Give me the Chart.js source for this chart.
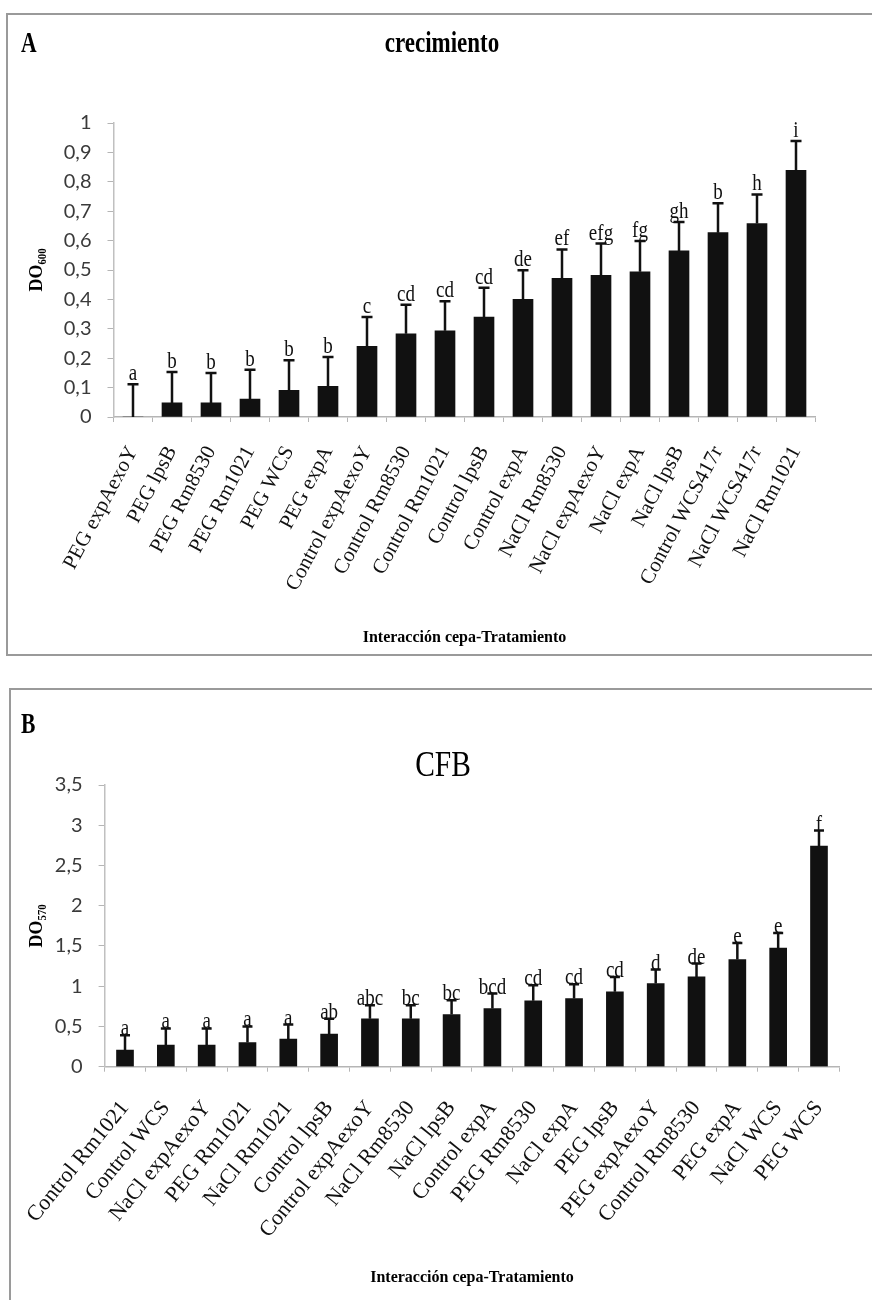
<!DOCTYPE html>
<html><head><meta charset="utf-8">
<script src="https://cdn.jsdelivr.net/npm/chart.js@4.4.0/dist/chart.umd.min.js"></script>
<style>
html,body{margin:0;padding:0;background:#fff;width:872px;height:1300px;overflow:hidden;position:relative}
.box{position:absolute;border:2px solid #9a9a9a;border-right:none;box-sizing:border-box}
#boxA{left:6px;top:13px;width:870px;height:643px}
#boxB{left:9px;top:688px;width:870px;height:620px;border-bottom:none}
.cv{position:absolute}
#wrapA{left:0;top:0;width:872px;height:655px}
#wrapB{left:0;top:690px;width:872px;height:610px}
</style></head><body>
<div class="box" id="boxA"></div>
<div class="box" id="boxB"></div>
<div class="cv" id="wrapA"><canvas id="cA"></canvas></div>
<div class="cv" id="wrapB"><canvas id="cB"></canvas></div>
<script>
// ---------- Panel A: crecimiento ----------
const categoriesA = ['PEG expAexoY','PEG lpsB','PEG Rm8530','PEG Rm1021','PEG WCS','PEG expA',
  'Control expAexoY','Control Rm8530','Control Rm1021','Control lpsB','Control expA',
  'NaCl Rm8530','NaCl expAexoY','NaCl expA','NaCl lpsB','Control WCS417r','NaCl WCS417r','NaCl Rm1021'];
const valuesA = [0, 0.048, 0.048, 0.061, 0.091, 0.104, 0.240, 0.283, 0.293, 0.340, 0.400,
  0.472, 0.482, 0.494, 0.565, 0.627, 0.658, 0.839];
const errorsA = [0.111, 0.105, 0.102, 0.100, 0.102, 0.100, 0.100, 0.099, 0.101, 0.100, 0.099,
  0.098, 0.108, 0.105, 0.098, 0.100, 0.099, 0.100];
const lettersA = ['a','b','b','b','b','b','c','cd','cd','cd','de','ef','efg','fg','gh','b','h','i'];
const yMinA = 0, yMaxA = 1, yStepA = 0.1;

// ---------- Panel B: CFB ----------
const categoriesB = ['Control Rm1021','Control WCS','NaCl expAexoY','PEG Rm1021','NaCl Rm1021',
  'Control lpsB','Control expAexoY','NaCl Rm8530','NaCl lpsB','Control expA','PEG Rm8530',
  'NaCl expA','PEG lpsB','PEG expAexoY','Control Rm8530','PEG expA','NaCl WCS','PEG WCS'];
const valuesB = [0.207, 0.27, 0.27, 0.30, 0.343, 0.405, 0.595, 0.595, 0.649, 0.723, 0.818,
  0.847, 0.93, 1.033, 1.116, 1.331, 1.475, 2.74];
const errorsB = [0.185, 0.205, 0.205, 0.20, 0.18, 0.19, 0.17, 0.17, 0.177, 0.186, 0.194,
  0.178, 0.186, 0.174, 0.165, 0.206, 0.186, 0.194];
const lettersB = ['a','a','a','a','a','ab','abc','bc','bc','bcd','cd','cd','cd','d','de','e','e','f'];
const yMinB = 0, yMaxB = 3.5, yStepB = 0.5;

const SERIF = "'Liberation Serif','DejaVu Serif',serif";
const SANS = "Lato,'Open Sans',sans-serif";

function commaFmt(v){ return String(Math.round(v*10)/10).replace('.', ','); }

function errorPlugin(errors, letters, opts){
  return {
    id: 'errbars',
    afterDatasetsDraw(chart){
      const ctx = chart.ctx;
      const meta = chart.getDatasetMeta(0);
      const ys = chart.scales.y;
      const vals = chart.data.datasets[0].data;
      ctx.save();
      ctx.strokeStyle = '#111';
      ctx.lineWidth = opts.lw;
      for (let i = 0; i < vals.length; i++){
        const x = meta.data[i].x;
        const yb = ys.getPixelForValue(vals[i]);
        const yt = ys.getPixelForValue(vals[i] + errors[i]);
        ctx.beginPath();
        ctx.moveTo(x, yb); ctx.lineTo(x, yt);
        ctx.moveTo(x - opts.cap/2, yt); ctx.lineTo(x + opts.cap/2, yt);
        ctx.stroke();
        ctx.save();
        ctx.translate(x, yt - opts.gap);
        ctx.scale(0.95, 1.15);
        ctx.fillStyle = '#111';
        ctx.font = opts.font;
        ctx.textAlign = 'center';
        ctx.textBaseline = 'alphabetic';
        ctx.fillText(letters[i], 0, 0);
        ctx.restore();
      }
      ctx.restore();
    }
  };
}

function stretchedText(ctx, txt, x, y, font, sx, sy, align){
  ctx.save();
  ctx.translate(x, y);
  ctx.scale(sx, sy);
  ctx.fillStyle = '#000';
  ctx.font = font;
  ctx.textAlign = align;
  ctx.textBaseline = 'alphabetic';
  ctx.fillText(txt, 0, 0);
  ctx.restore();
}

function headerPlugin(cfg){
  return {
    id: 'header',
    afterDraw(chart){
      const ctx = chart.ctx;
      stretchedText(ctx, cfg.panel, 21, cfg.panelY, "bold 24px " + SERIF, 0.9, 1.2, 'left');
      stretchedText(ctx, cfg.title, cfg.titleX, cfg.titleY, cfg.titleFont, cfg.tsx, cfg.tsy, 'center');
    }
  };
}

function makeChart(id, cfg){
  return new Chart(document.getElementById(id), {
    type: 'bar',
    data: { labels: cfg.labels, datasets: [{ data: cfg.values, backgroundColor: '#111', borderWidth: 0,
      barThickness: cfg.barW }] },
    options: {
      responsive: true, maintainAspectRatio: false, animation: false,
      layout: { padding: cfg.pad },
      plugins: { legend: { display: false }, tooltip: { enabled: false }, title: { display: false } },
      scales: {
        x: {
          grid: { display: true, drawOnChartArea: false, drawTicks: true, tickLength: 5, color: '#b5b5b5' },
          border: { display: true, color: '#b5b5b5', width: 1.5 },
          ticks: { color: '#111', font: { family: SERIF, size: cfg.xFont }, minRotation: cfg.rot, maxRotation: cfg.rot,
            autoSkip: false, padding: cfg.xPad },
          title: { display: true, text: 'Interacción cepa-Tratamiento', color: '#000',
            font: { family: SERIF, size: 16, weight: 'bold', lineHeight: 1.2 }, padding: { top: 0, bottom: cfg.xTitlePadB } },
          afterFit(s){ s.height = cfg.xH; }
        },
        y: {
          min: cfg.yMin, max: cfg.yMax,
          grid: { display: true, drawOnChartArea: false, drawTicks: true, tickLength: 6, color: '#b5b5b5' },
          border: { display: true, color: '#c0c0c0', width: 1.5 },
          ticks: { stepSize: cfg.yStep, color: '#3a3a3a', font: { family: SANS, size: 20 }, padding: 16,
            callback: (v) => commaFmt(v) },
          title: { display: true, text: cfg.yTitle, color: '#000',
            font: { family: SERIF, size: 18, weight: 'bold', lineHeight: 1.2 }, padding: { top: 27, bottom: 0 } },
          afterFit(s){ s.width = cfg.yW; }
        }
      }
    },
    plugins: [errorPlugin(cfg.errors, cfg.letters, cfg.err), headerPlugin(cfg)]
  });
}

makeChart('cA', {
  labels: categoriesA, values: valuesA, errors: errorsA, letters: lettersA,
  title: 'crecimiento', titleFont: "bold 23px " + SERIF, titleX: 442, titleY: 52, tsx: 1.0, tsy: 1.3,
  pad: { left: 0, right: 56.5, top: 123, bottom: 8 },
  xH: 230, yW: 113.5, xFont: 21, rot: 62, xPad: 20, xTitlePadB: 0,
  yMin: yMinA, yMax: yMaxA, yStep: yStepA, yTitle: 'DO₆₀₀',
  barW: 20, err: { lw: 2.5, cap: 11, gap: 4, font: "20px " + SERIF },
  panel: 'A', panelY: 52
});

makeChart('cB', {
  labels: categoriesB, values: valuesB, errors: errorsB, letters: lettersB,
  title: 'CFB', titleFont: "31px " + SERIF, titleX: 443, titleY: 86, tsx: 0.95, tsy: 1.15,
  pad: { left: 0, right: 32.6, top: 95, bottom: 6 },
  xH: 227.3, yW: 104.6, xFont: 22, rot: 51, xPad: 24, xTitlePadB: 7,
  yMin: yMinB, yMax: yMaxB, yStep: yStepB, yTitle: 'DO₅₇₀',
  barW: 17, err: { lw: 2.5, cap: 10, gap: 0, font: "20px " + SERIF },
  panel: 'B', panelY: 43
});
</script>
</body></html>
